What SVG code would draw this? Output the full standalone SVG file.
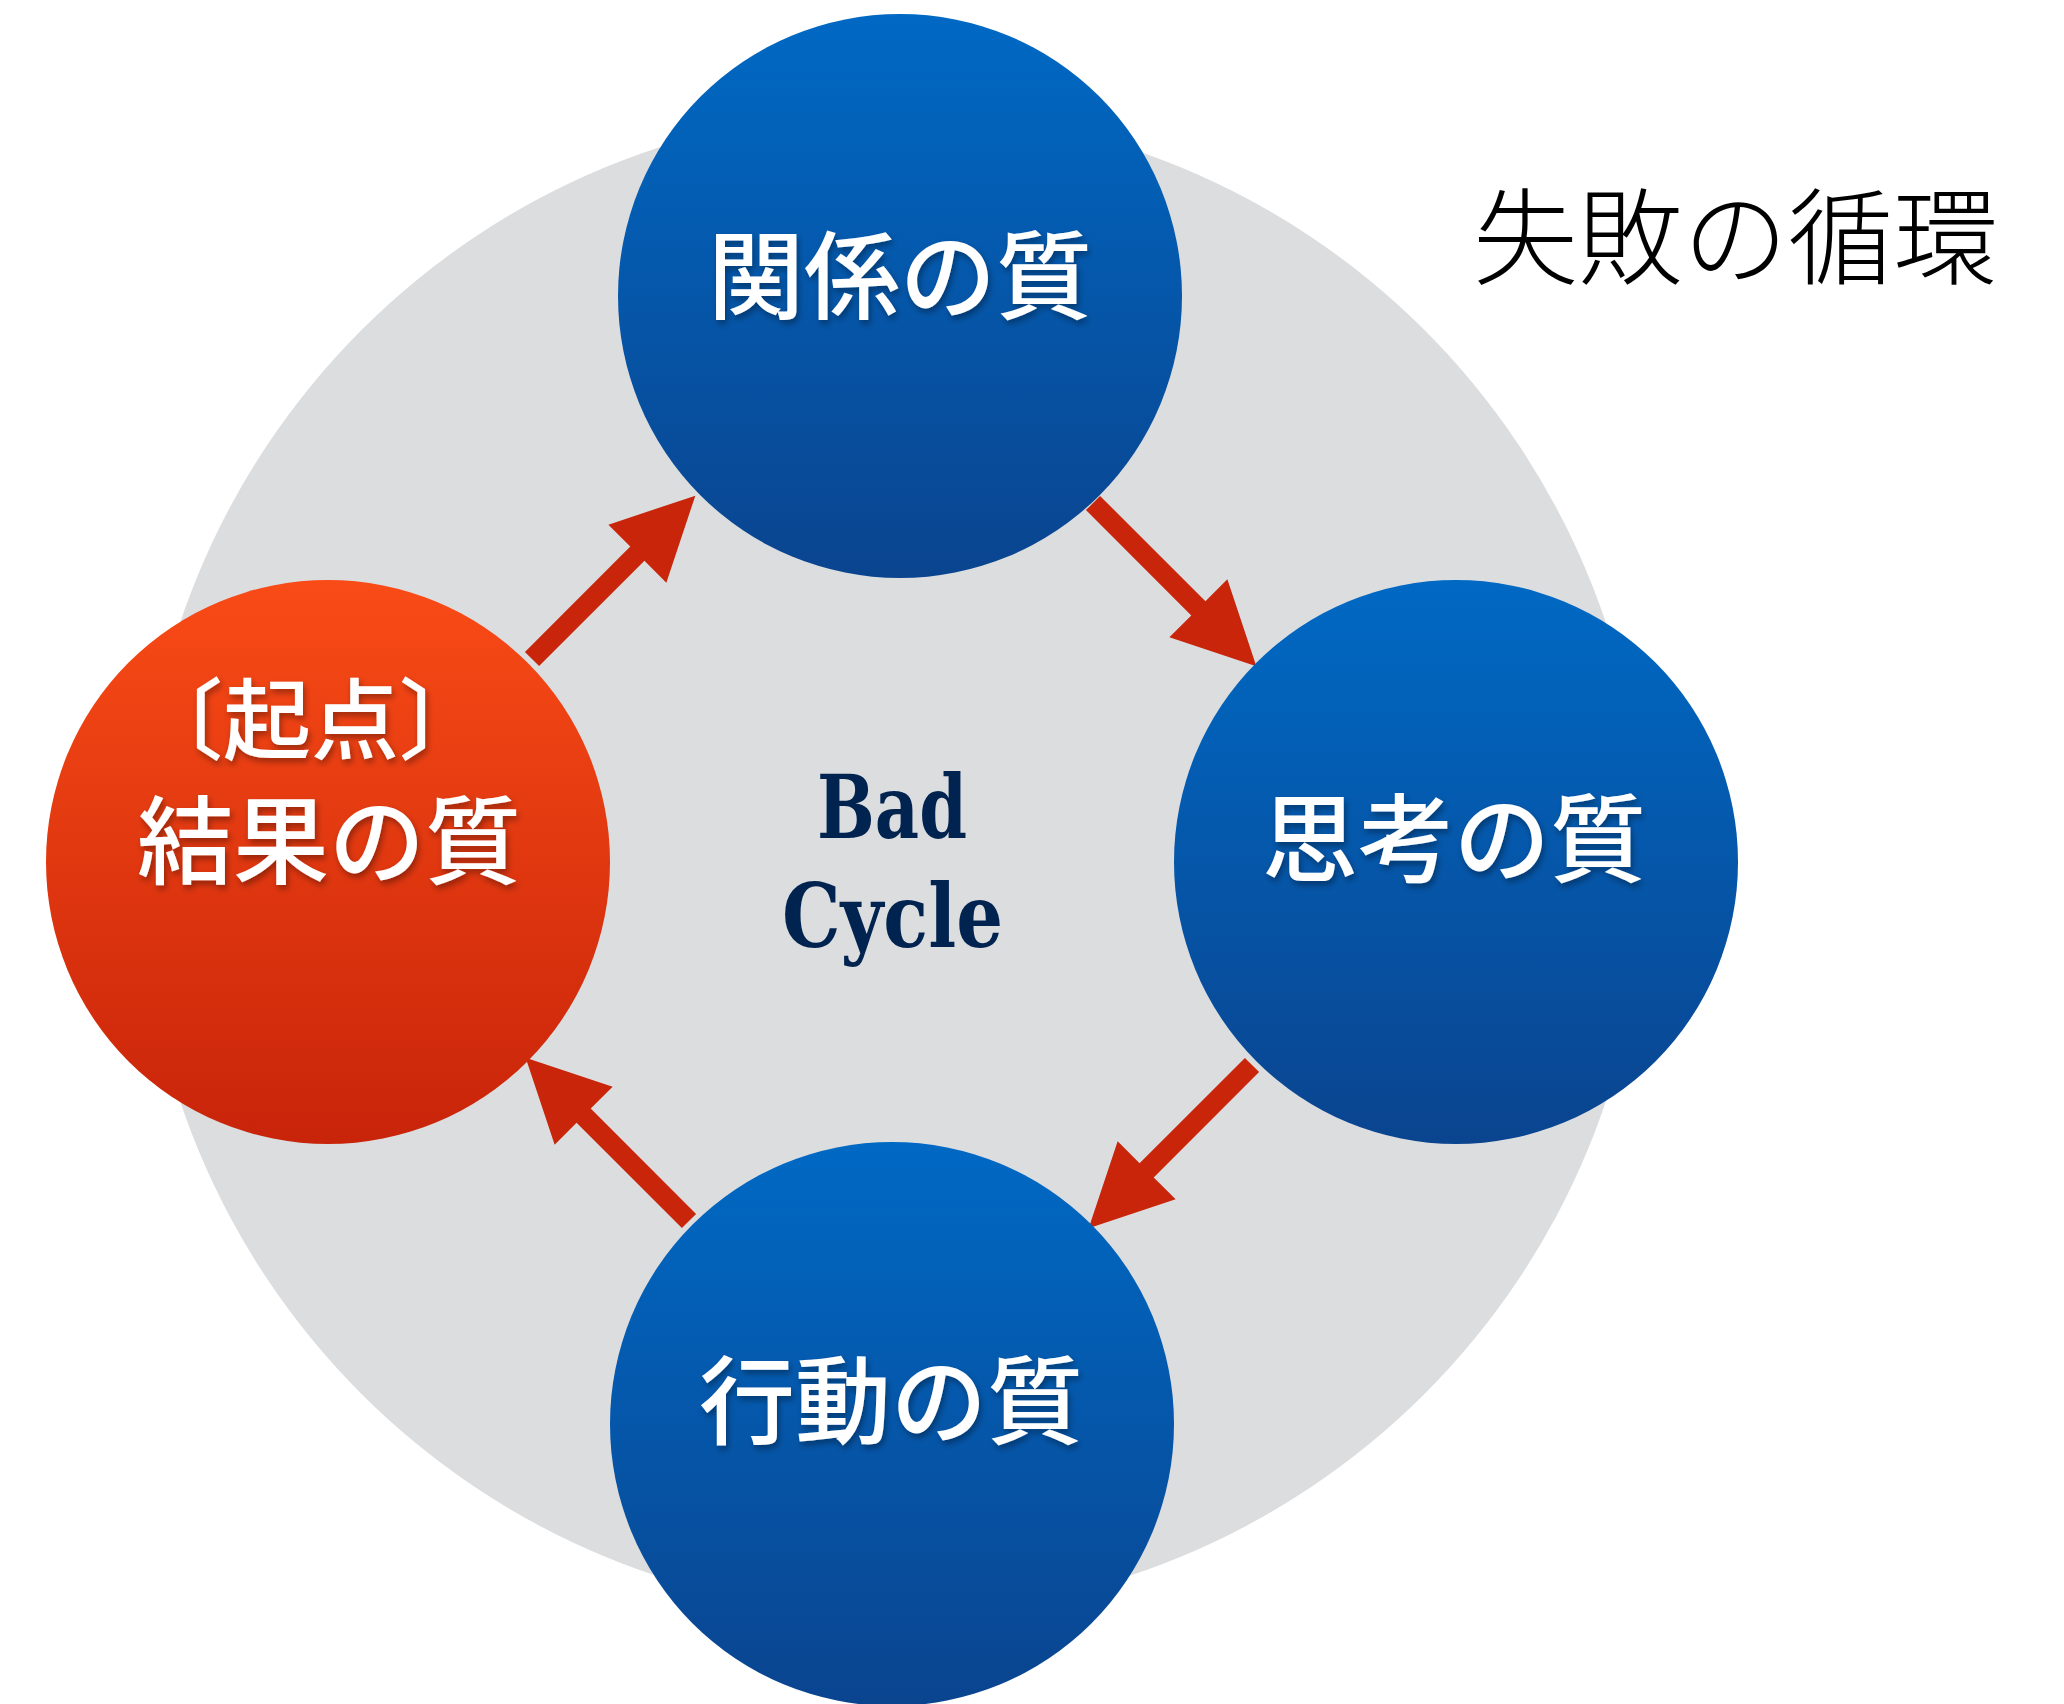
<svg xmlns="http://www.w3.org/2000/svg" xmlns:xlink="http://www.w3.org/1999/xlink" width="2064" height="1704" viewBox="0 0 2064 1704">
  <style>
    .lbl { font-family: "Noto Sans CJK JP", "Noto Sans CJK SC", sans-serif; font-weight: 500; fill: #ffffff; }
    .node-label { font-size: 96px; text-anchor: middle; }
    .title { font-family: "Noto Sans CJK JP", "Noto Sans CJK SC", sans-serif; font-weight: 300; font-size: 105px; fill: #000000; }
    .center { font-family: "DejaVu Serif", "Liberation Serif", serif; font-weight: bold; font-size: 88px; fill: #00234F; }
    .arrow { fill: #C8250A; }
  </style>
  <defs>
    <linearGradient id="blueGrad" x1="0" y1="0" x2="0" y2="1">
      <stop offset="0" stop-color="#0069C4"/>
      <stop offset="1" stop-color="#0A448F"/>
    </linearGradient>
    <linearGradient id="redGrad" x1="0" y1="0" x2="0" y2="1">
      <stop offset="0" stop-color="#F94B16"/>
      <stop offset="1" stop-color="#C8240A"/>
    </linearGradient>
    <filter id="shadow" x="-10%" y="-20%" width="120%" height="150%">
      <feDropShadow dx="2" dy="4" stdDeviation="3" flood-color="#000000" flood-opacity="0.35"/>
    </filter>
    <path id="arrowShape" d="M0,-10 L149,-10 L149,-41 L231,0 L149,41 L149,10 L0,10 Z"/>
  </defs>

  <rect x="0" y="0" width="2064" height="1704" fill="#ffffff"/>

  <g id="background-ring">
    <circle cx="893" cy="862" r="752" fill="#DCDDDF"/>
  </g>

  <g id="connectors">
    <use xlink:href="#arrowShape" class="arrow" transform="translate(532,659) rotate(-45)"/>
    <use xlink:href="#arrowShape" class="arrow" transform="translate(1093,503) rotate(45)"/>
    <use xlink:href="#arrowShape" class="arrow" transform="translate(1252,1065) rotate(135)"/>
    <use xlink:href="#arrowShape" class="arrow" transform="translate(689,1221) rotate(225)"/>
  </g>

  <g id="node-relationship">
    <circle cx="900" cy="296" r="282" fill="url(#blueGrad)"/>
    <text class="lbl node-label" x="900" y="311" filter="url(#shadow)">関係の質</text>
  </g>

  <g id="node-thinking">
    <circle cx="1456" cy="862" r="282" fill="url(#blueGrad)"/>
    <text class="lbl node-label" x="1454" y="874" filter="url(#shadow)">思考の質</text>
  </g>

  <g id="node-action">
    <circle cx="892" cy="1424" r="282" fill="url(#blueGrad)"/>
    <text class="lbl node-label" x="891" y="1436" filter="url(#shadow)">行動の質</text>
  </g>

  <g id="node-result">
    <circle cx="328" cy="862" r="282" fill="url(#redGrad)"/>
    <text class="lbl" filter="url(#shadow)"><tspan x="135" y="752" font-size="88">〔起点〕</tspan><tspan x="329" y="876" font-size="96" text-anchor="middle">結果の質</tspan></text>
  </g>

  <g id="center-label">
    <text class="center" x="817" y="838" textLength="150" lengthAdjust="spacingAndGlyphs">Bad</text>
    <text class="center" x="782" y="947" textLength="221" lengthAdjust="spacingAndGlyphs">Cycle</text>
  </g>

  <g id="title">
    <text class="title" x="1473" y="276">失敗の循環</text>
  </g>
</svg>
